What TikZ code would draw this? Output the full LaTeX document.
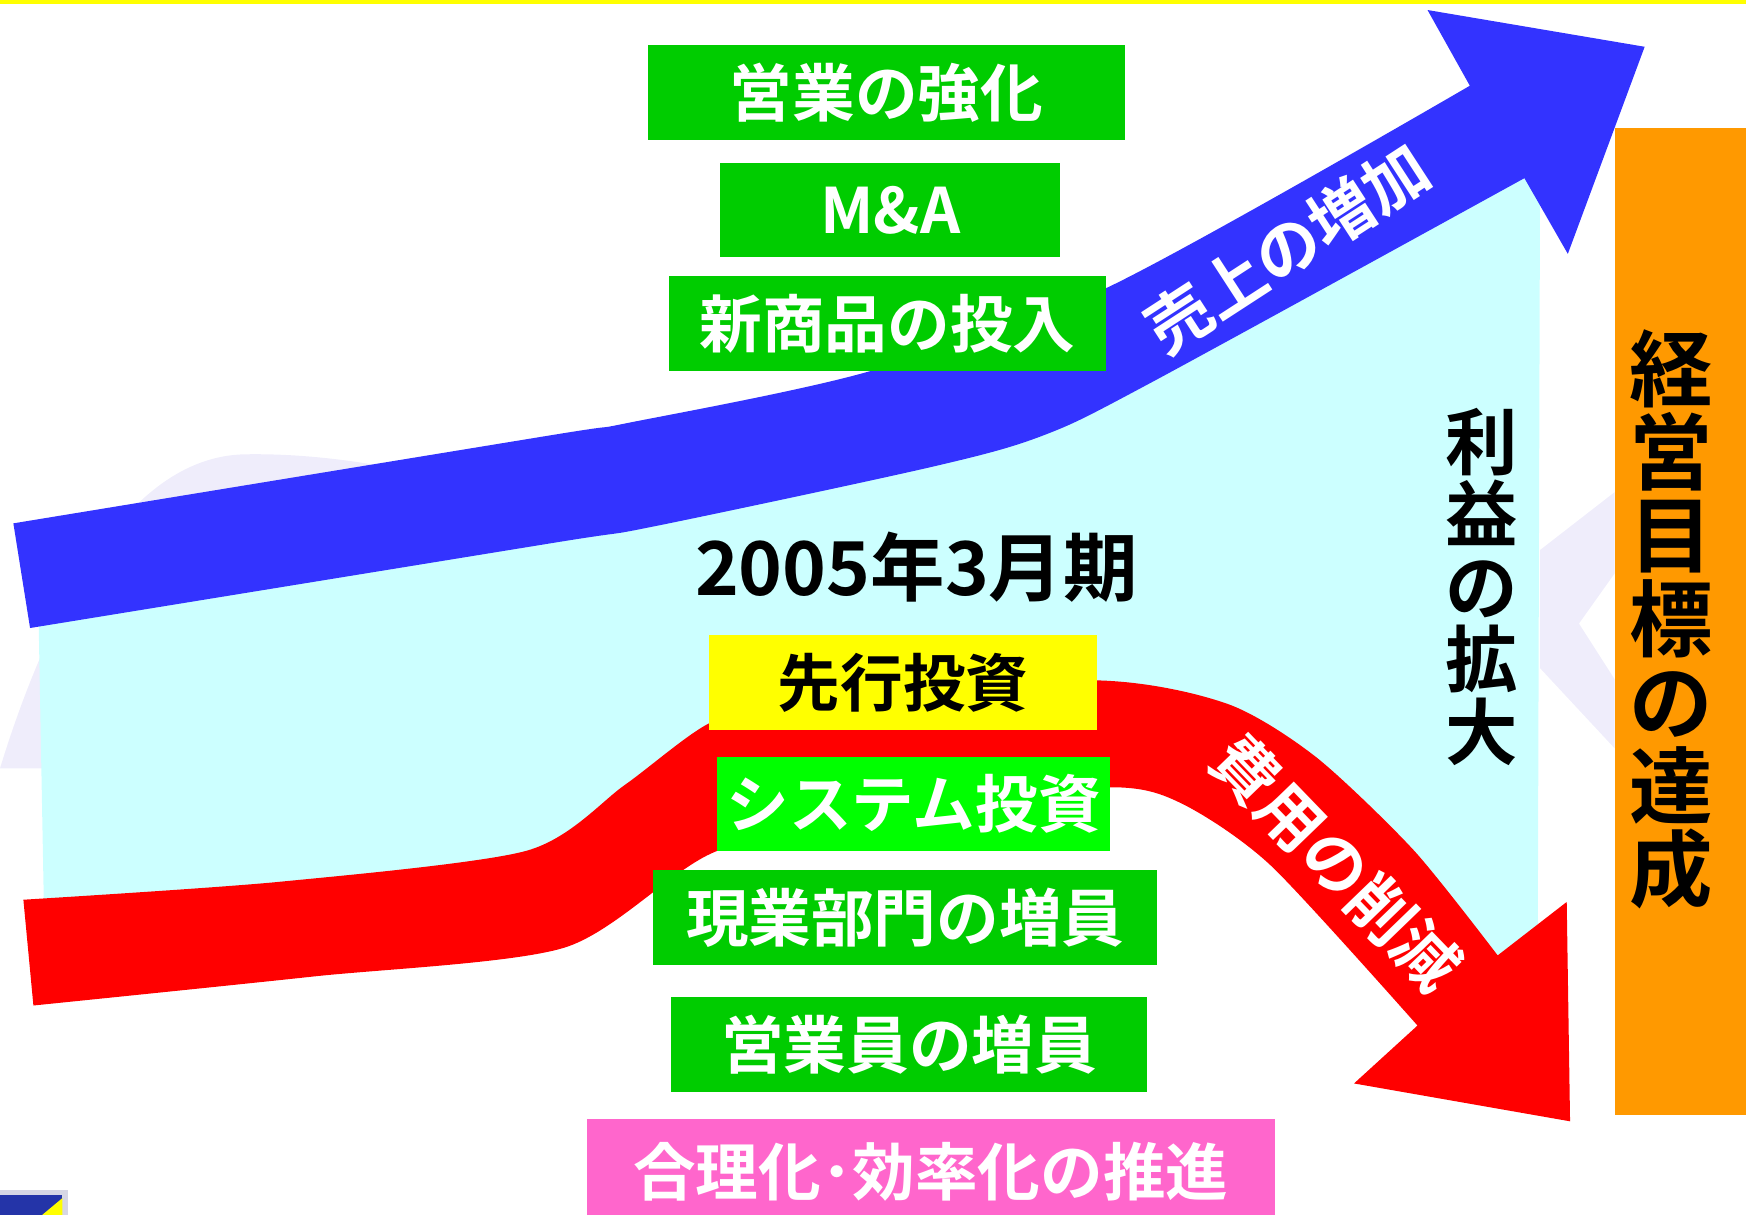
\documentclass[tikz,border=0pt]{standalone}
\usepackage{fontspec}
\newfontfamily\jp{Noto Sans CJK JP Bold}
\definecolor{bandblue}{RGB}{51,51,255}
\definecolor{bandred}{RGB}{255,0,0}
\definecolor{sky}{RGB}{204,255,255}
\definecolor{boxgreen}{RGB}{0,204,0}
\definecolor{litegreen}{RGB}{0,255,0}
\definecolor{yel}{RGB}{255,255,0}
\definecolor{pink}{RGB}{255,102,204}
\definecolor{goal}{RGB}{255,153,0}
\definecolor{lav}{RGB}{239,237,251}
\definecolor{logoblue}{RGB}{36,52,168}
\definecolor{logogrey}{RGB}{214,214,228}
\begin{document}
\begin{tikzpicture}[x=0.01cm,y=-0.01cm,
  box/.style={fill=boxgreen,text=white,inner sep=0,minimum height=0.85cm,font=\jp\fontsize{16}{16}\selectfont},
  bandtext/.style={text=white,inner sep=0,font=\jp\fontsize{16.5}{16.5}\selectfont}]
\useasboundingbox (0,0) rectangle (1568,1091);
\fill[lav] (0,690) .. controls (40,560) and (110,410) .. (220,408) .. controls (330,406) and (450,440) .. (520,470) -- (520,690) -- cycle;
\fill[lav] (1383,494) -- (1450,442) -- (1450,515) -- (1418,560) -- (1450,610) -- (1450,672) -- (1383,600) -- cycle;
\fill[yel] (0,0) rectangle (1568,3.5);
\fill[sky] (34,520) -- (494,440) -- (800,380) -- (1000,310) -- (1200,205) -- (1340,125) -- (1383,175) -- (1381,850) -- (1345,880) -- (1270,790) -- (1182,705) -- (1102,665) -- (985,655) -- (636,690) -- (473,800) -- (40,845) -- cycle;
\fill[bandred] plot[smooth,tension=0.45] coordinates {(21,808) (250,792) (473,764) (561,705) (636,650) (720,622) (985,611) (1102,632) (1182,680) (1270,764) (1345,858)} -- (1407,810) -- (1410,1007) -- (1216,973) -- plot[smooth,tension=0.45] coordinates {(1273,921) (1142,778) (1062,722) (998,707) (820,722) (642,765) (507,851) (281,877) (30,903)} -- cycle;
\fill[bandblue] plot[smooth,tension=0.5] coordinates {(12,470) (494,391) (563,380) (779,334) (995,258) (1320,77)} -- (1282,9) -- (1477,42) -- (1408,228) -- plot[smooth,tension=0.5] coordinates {(1369,160) (1033,344) (937,391) (838,419) (586,473) (494,488) (27,564)} -- cycle;
\node[box,minimum width=4.28cm] (sales) at (796,83) {営業の強化};
\node[box,minimum width=3.05cm] (ma) at (799.5,188.5) {M\&A};
\node[box,minimum width=3.92cm] (newprod) at (797,290.5) {新商品の投入};
\node[inner sep=0,font=\jp\fontsize{19}{19}\selectfont] (term) at (823,509) {2005年3月期};
\node[box,fill=yel,text=black,minimum width=3.48cm] (advance) at (811,613) {先行投資};
\node[box,fill=litegreen,minimum width=3.53cm] (system) at (820.5,722) {システム投資};
\node[box,minimum width=4.52cm] (field) at (813,824) {現業部門の増員};
\node[box,minimum width=4.27cm] (salesstaff) at (816.5,938) {営業員の増員};
\node[box,fill=pink,minimum width=6.18cm,minimum height=0.94cm] (rational) at (836,1052) {合理化･効率化の推進};
\node[bandtext,rotate=33] (revenue) at (1156,223) {売上の増加};
\node[bandtext,rotate=-46] (cost) at (1200,775) {費用の削減};
\node[inner sep=0,align=center,font=\jp\fontsize{18.5}{18.5}\selectfont] (profit) at (1331,527) {利\\益\\の\\拡\\大};
\fill[goal] (1450,115) rectangle (1568,1001);
\node[inner sep=0,align=center,font=\jp\fontsize{21.3}{21.3}\selectfont] (target) at (1501,556) {経\\営\\目\\標\\の\\達\\成};
\fill[logogrey] (0,1069) rectangle (61,1091);
\fill[logoblue] (0,1073) rectangle (56,1091);
\fill[yel] (38,1091) -- (56,1076) -- (56,1091) -- cycle;
\end{tikzpicture}
\end{document}
